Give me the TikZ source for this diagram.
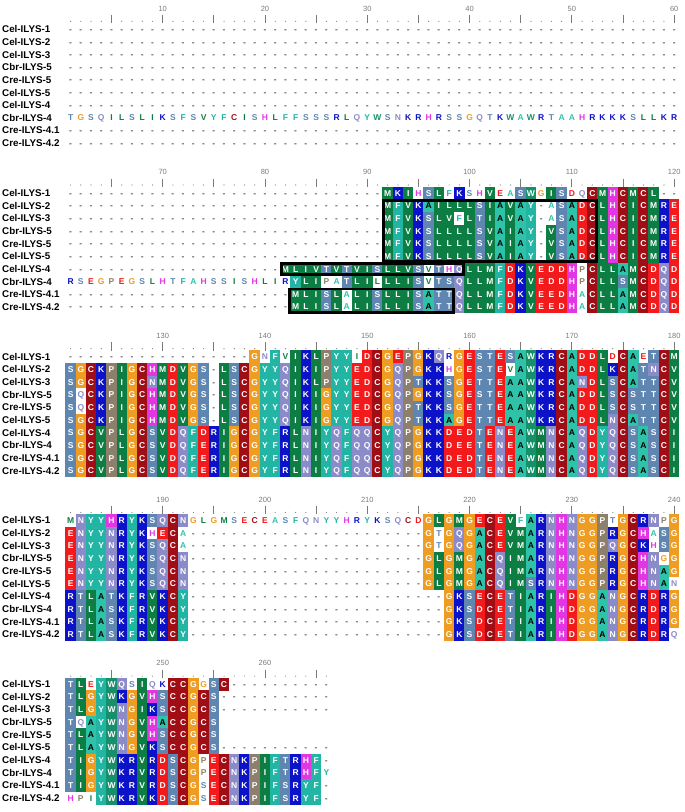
\documentclass[tikz,border=0pt]{standalone}
\usepackage{fontspec}
\setmainfont{Liberation Sans}
\usepackage{tikz}

% residue colours, one per amino acid letter
\definecolor{resG}{HTML}{EE9C22}
\definecolor{resC}{HTML}{A00D14}
\definecolor{resD}{HTML}{F21A1A}
\colorlet{resE}{resD}
\definecolor{resF}{HTML}{22B5A4}
\colorlet{resY}{resF}
\definecolor{resA}{HTML}{2EC2A8}
\definecolor{resH}{HTML}{E236E2}
\definecolor{resI}{HTML}{0D7E43}
\colorlet{resL}{resI}
\colorlet{resM}{resI}
\colorlet{resV}{resI}
\definecolor{resW}{HTML}{16906A}
\definecolor{resK}{HTML}{0C12C8}
\colorlet{resR}{resK}
\definecolor{resN}{HTML}{8B8BC9}
\colorlet{resQ}{resN}
\definecolor{resP}{HTML}{8C7F6C}
\definecolor{resS}{HTML}{5E86B0}
\colorlet{resT}{resS}
\definecolor{rulergray}{HTML}{7A7A7A}
\definecolor{gapgray}{HTML}{5A5A5A}

% upper case = shaded cell, lower case = plain letter, - = gap
\newcount\rescount
\newcommand\alignrow[3]{%
  \def\blk{#1}\def\rowid{#2}%
  \pgfmathsetmacro\rowy{29.3+#1*163.7+#2*12.66}%
  \global\rescount=0
  \readres#3\relax}
\newcommand\readres[1]{%
  \ifx#1\relax
  \else
    \global\advance\rescount by 1
    \drawres{#1}%
    \expandafter\readres
  \fi}
\newcommand\drawres[1]{%
  \pgfmathsetmacro\cellx{70.6+(\the\rescount-1)*10.23}%
  \if-#1%
    \node[gapmark, name=c\blk-\rowid-\the\rescount] at (\cellx,\rowy) {-};%
  \else
    \uppercase{\def\resup{#1}}%
    \ifnum`#1>90\relax
      \node[resplain, text=res\resup, name=c\blk-\rowid-\the\rescount] at (\cellx,\rowy) {\resup};%
    \else
      \edef\resfg{\if A\resup black\else white\fi}%
      \node[resbox, fill=res\resup, text=\resfg, name=c\blk-\rowid-\the\rescount] at (\cellx,\rowy) {\resup};%
    \fi
  \fi}

\begin{document}
\begin{tikzpicture}[
  x=1pt, y=-1pt,
  seqname/.style={anchor=west, inner sep=0pt, font=\fontsize{9.8}{11}\selectfont\bfseries},
  resbox/.style={inner sep=0pt, minimum width=10.5pt, minimum height=12.9pt,
    text height=6.1pt, text depth=0pt, font=\fontsize{8.5}{10}\selectfont\bfseries},
  resplain/.style={resbox},
  gapmark/.style={resbox, text=gapgray},
  rulenum/.style={inner sep=0pt, font=\fontsize{7.5}{9}\selectfont, text=rulergray},
  ruletick/.style={draw=rulergray, line width=0.8pt},
  motif/.style={draw=black, line width=2.6pt}
]
  \useasboundingbox (0,0) rectangle (685,812);

  % sequence names, repeated for each block of 60 columns
  \foreach \b in {0,...,4}{
    \foreach \r/\lab in {0/Cel-ILYS-1,1/Cel-ILYS-2,2/Cel-ILYS-3,3/Cbr-ILYS-5,4/Cre-ILYS-5,
        5/Cel-ILYS-5,6/Cel-ILYS-4,7/Cbr-ILYS-4,8/Cre-ILYS-4.1,9/Cre-ILYS-4.2}
      \node[seqname] (lab\b-\r) at (2,{29.3+\b*163.7+\r*12.66}) {\lab};
  }

  % ruler: dot per column, tick every 5, number every 10
  \foreach \b/\n in {0/60,1/60,2/60,3/60,4/26}{
    \foreach \j in {1,...,\n}{
      \pgfmathtruncatemacro\col{60*\b+\j}
      \pgfmathtruncatemacro\five{mod(\col,5)}
      \pgfmathtruncatemacro\ten{mod(\col,10)}
      \pgfmathsetmacro\rx{70.6+(\j-1)*10.23}
      \pgfmathsetmacro\ry{29.3+\b*163.7}
      \ifnum\ten=0
        \node[rulenum] (num\col) at (\rx,\ry-20.8) {\col};
      \fi
      \ifnum\five=0
        \draw[ruletick] (\rx,\ry-14.5) -- (\rx,\ry-6);
      \else
        \fill[rulergray] (\rx,\ry-8) circle[radius=0.6pt];
      \fi
    }
  }

  % block 1: columns 1-60
  \alignrow{0}{0}{---------- ---------- ---------- ---------- ---------- ----------}
  \alignrow{0}{1}{---------- ---------- ---------- ---------- ---------- ----------}
  \alignrow{0}{2}{---------- ---------- ---------- ---------- ---------- ----------}
  \alignrow{0}{3}{---------- ---------- ---------- ---------- ---------- ----------}
  \alignrow{0}{4}{---------- ---------- ---------- ---------- ---------- ----------}
  \alignrow{0}{5}{---------- ---------- ---------- ---------- ---------- ----------}
  \alignrow{0}{6}{---------- ---------- ---------- ---------- ---------- ----------}
  \alignrow{0}{7}{tgsqilslik sfsvyfcish lffsssrlqy wsnkrhrssg qtkwawrtaa hrkkksllkr}
  \alignrow{0}{8}{---------- ---------- ---------- ---------- ---------- ----------}
  \alignrow{0}{9}{---------- ---------- ---------- ---------- ---------- ----------}

  % block 2: columns 61-120
  \alignrow{1}{0}{---------- ---------- ---------- -MKIhSLfKs hVeaSWgISd qCMHCMCL--}
  \alignrow{1}{1}{---------- ---------- ---------- -MFVKAILLL SIAVAY-aSA DCLHCICMRE}
  \alignrow{1}{2}{---------- ---------- ---------- -MFVKSLVfL TIAVAY-aSA DCLHCICMRE}
  \alignrow{1}{3}{---------- ---------- ---------- -MFVKSLLLL SVAIAY-VSA DCLHCICMRE}
  \alignrow{1}{4}{---------- ---------- ---------- -MFVKSLLLL SVAIAY-VSA DCLHCICMRE}
  \alignrow{1}{5}{---------- ---------- ---------- -MFVKSLLLL SVAIAY-VSA DCLHCICMRE}
  \alignrow{1}{6}{---------- ---------- -MLIVTVTVI SLLVSvThQL LMFDKVEDDH pCLLAMCDQD}
  \alignrow{1}{7}{rsegpegslh tfahssishl irYLIpaTLI lLLISvTSQL LMFDKVEDDH pCLLSMCDQD}
  \alignrow{1}{8}{---------- ---------- --MLISLaLI SLLISATTQL LMFDKVEEDH aCLLAMCDQD}
  \alignrow{1}{9}{---------- ---------- --MLISLaLI SLLISATTQL LMFDKVEEDH aCLLAMCDQD}

  % block 3: columns 121-180
  \alignrow{2}{0}{---------- --------Gn FvIKLPYYiD CGEPGKQrGE STESAWKRCA DDLdCAeTCM}
  \alignrow{2}{1}{SGCKPIGCHM DVGS-LSCGY YQIKIPYYED CGQPGKKhGE STEvAWKRCA DDLKCATNCV}
  \alignrow{2}{2}{SGCKPIGCNM DVGS-LSCGY YQIKLPYYED CGQPTKKSGE TTEAAWKRCA NDLSCATTCV}
  \alignrow{2}{3}{SqCKPIGCHM DVGS-LSCGY YQIKIGYYED CGQPGKKSGE STEAAWKRCA DDLSCSTTCV}
  \alignrow{2}{4}{SqCKPIGCHM DVGS-LSCGY YQIKIGYYED CGQPTKKSGE TTEAAWKRCA DDLSCSTTCV}
  \alignrow{2}{5}{SGCKPIGCHM DVGS-LSCGY YQIKIGYYED CGQPTKKAGE TTEAAWKRCA DDLNCATTCV}
  \alignrow{2}{6}{SGCVPLGCSV DQFDRIGCGY FRLNIYQFQQ CYQPGKKDED TENEAWMNCA QDYQCSASCI}
  \alignrow{2}{7}{SGCVPLGCSV DQFERIGCGY FRLNIYQFQQ CYQPGKKDEE TENEAWMNCA QDYQCSASCI}
  \alignrow{2}{8}{SGCVPLGCSV DQFERIGCGY FRLNIYQFQQ CYQPGKKDED TENEAWMNCA QDYQCSASCI}
  \alignrow{2}{9}{SGCVPLGCSV DQFERIGCGY FRLNIYQFQQ CYQPGKKDED TENEAWMNCA QDYQCSASCI}

  % block 4: columns 181-240
  \alignrow{3}{0}{mNYYHRYKSQ CNglgmsece asfqnyyhry ksqcdGLGMG ECEVfARNHN GGPtGCRNpG}
  \alignrow{3}{1}{ENYYNRYKhE Ca-------- ---------- -----GtGQG ACEVMARNHN GGPRGCHaSG}
  \alignrow{3}{2}{ENYYNRYKSQ Ca-------- ---------- -----GtGQG ACEVMARNHN GGPQGCKhSG}
  \alignrow{3}{3}{ENYYNRYKSQ CN-------- ---------- -----GLGMG ACQIMARNHN GGPRGCHNgG}
  \alignrow{3}{4}{ENYYNRYKSQ CN-------- ---------- -----GLGMG ACQIMARNHN GGPRGCHNAG}
  \alignrow{3}{5}{ENYYNRYKSQ CN-------- ---------- -----GLGMG ACQIMSRNHN GGPRGCHNAn}
  \alignrow{3}{6}{RTLATKFRVK CY-------- ---------- -------GKS ECETIARIHD GGANGCRDRG}
  \alignrow{3}{7}{RTLASKFRVK CY-------- ---------- -------GKS DCETIARIHD GGANGCRDRG}
  \alignrow{3}{8}{RTLASKFRVK CY-------- ---------- -------GKS DCETIARIHD GGANGCRDRG}
  \alignrow{3}{9}{RTLASKFRVK CY-------- ---------- -------GKS DCETIARIHD GGANGCRDRq}

  % block 5: columns 241-266
  \alignrow{4}{0}{TLeYWQsIqk CCGgSC---- ------}
  \alignrow{4}{1}{TLGYWKGVHS CCGCS----- ------}
  \alignrow{4}{2}{TLGYWNGIKS CCGCS----- ------}
  \alignrow{4}{3}{TqAYWNGVHA CCGCS}
  \alignrow{4}{4}{TLAYWNGVHS CCGCS}
  \alignrow{4}{5}{TLAYWNGVKS CCGCS----- ------}
  \alignrow{4}{6}{TIGYWKRVRD SCGpECNKPI FTRHF-}
  \alignrow{4}{7}{TIGYWKRVRD SCGpECNKPI FTRHFy}
  \alignrow{4}{8}{TIGYWKRVRD SCGsECNKPI FSRYF-}
  \alignrow{4}{9}{hpiYWKRVKD SCGsECNKPI FSRYF-}

  % boxed segments in block 2, drawn over the cells
  \draw[motif] ([shift={(1.3,1.3)}]c1-1-32.north west) rectangle ([shift={(-1.3,-1.3)}]c1-5-52.south east);
  \draw[motif] ([shift={(1.3,1.3)}]c1-6-22.north west) rectangle ([shift={(-1.3,-1.3)}]c1-6-39.south east);
  \draw[motif] ([shift={(-0.8,1.3)}]c1-8-23.north west) rectangle ([shift={(-1.3,-1.3)}]c1-9-38.south east);
\end{tikzpicture}
\end{document}
